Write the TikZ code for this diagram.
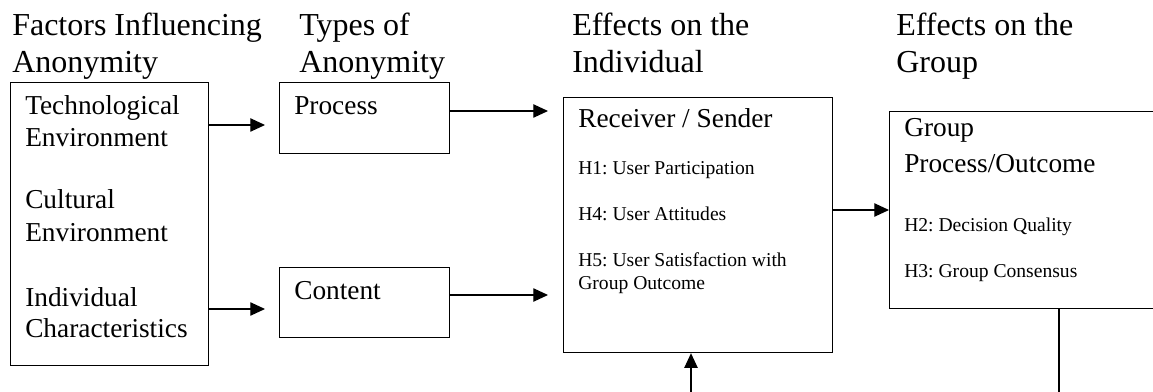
\documentclass[tikz,border=0pt]{standalone}
\usepackage{fontspec}
\setmainfont{Liberation Serif}
\usetikzlibrary{arrows.meta}
\frenchspacing
\begin{document}
\begin{tikzpicture}[x=0.75pt,y=-0.75pt,
  box/.style={draw, line width=0.9pt, inner sep=0pt, anchor=north west},
  ttl/.style={anchor=base west, inner sep=0pt, font=\fontsize{24}{28}\selectfont},
  bt/.style={anchor=base west, inner sep=0pt, font=\fontsize{20.5}{24}\selectfont},
  sm/.style={anchor=base west, inner sep=0pt, font=\fontsize{14.7}{17}\selectfont},
  arr/.style={-{Triangle[length=11pt,width=10pt]}, line width=0.9pt}]
\useasboundingbox (0,0) rectangle (1153,392);
\clip (0,0) rectangle (1153,392);
% titles
\node[ttl] (h1a) at (12,36) {Factors Influencing};
\node[ttl] (h1b) at (12,73) {Anonymity};
\node[ttl] (h2a) at (299,36) {Types of};
\node[ttl] (h2b) at (299,73) {Anonymity};
\node[ttl] (h3a) at (572,36) {Effects on the};
\node[ttl] (h3b) at (572,73) {Individual};
\node[ttl] (h4a) at (896,36) {Effects on the};
\node[ttl] (h4b) at (896,73) {Group};
% boxes
\node[box, minimum width=148.5pt, minimum height=212.25pt] (fac) at (10,82) {};
\node[box, minimum width=127.5pt, minimum height=53.25pt] (proc) at (279,82) {};
\node[box, minimum width=127.5pt, minimum height=52.5pt] (cont) at (279,267) {};
\node[box, minimum width=201.75pt, minimum height=191.25pt] (ind) at (563,97) {};
\node[box, minimum width=210.75pt, minimum height=147.75pt] (grp) at (889,111) {};
% box texts
\node[bt] (f1) at (25,115) {Technological};
\node[bt] (f2) at (25,147) {Environment};
\node[bt] (f3) at (25,209) {Cultural};
\node[bt] (f4) at (25,242) {Environment};
\node[bt] (f5) at (25,306) {Individual};
\node[bt] (f6) at (25,337) {Characteristics};
\node[bt] (pt) at (294,115) {Process};
\node[bt] (ct) at (294,299) {Content};
\node[bt] (it) at (578,128) {Receiver / Sender};
\node[sm] (i1) at (578,175) {H1: User Participation};
\node[sm] (i2) at (578,220) {H4: User Attitudes};
\node[sm] (i3) at (578,267) {H5: User Satisfaction with};
\node[sm] (i4) at (578,289) {Group Outcome};
\node[bt] (g1) at (904,137) {Group};
\node[bt] (g2) at (904,173) {Process/Outcome};
\node[sm] (g3) at (904,232) {H2: Decision Quality};
\node[sm] (g4) at (904,277) {H3: Group Consensus};
% connectors
\draw[arr, shorten >=10.5pt] (fac.east |- 0,125) -- (proc.west |- 0,125);
\draw[arr, shorten >=10.5pt] (fac.east |- 0,309) -- (cont.west |- 0,309);
\draw[arr, shorten >=11.25pt] (proc.east |- 0,111) -- (ind.west |- 0,111);
\draw[arr, shorten >=11.25pt] (cont.east |- 0,295) -- (ind.west |- 0,295);
\draw[arr] (ind.east |- 0,210) -- (grp.west |- 0,210);
\coordinate (fbA) at (1059,420);
\coordinate (fbB) at (691,420);
\draw[arr] (grp.south -| fbA) -- (fbA) -- (fbB) -- (ind.south -| fbB);
\end{tikzpicture}
\end{document}
